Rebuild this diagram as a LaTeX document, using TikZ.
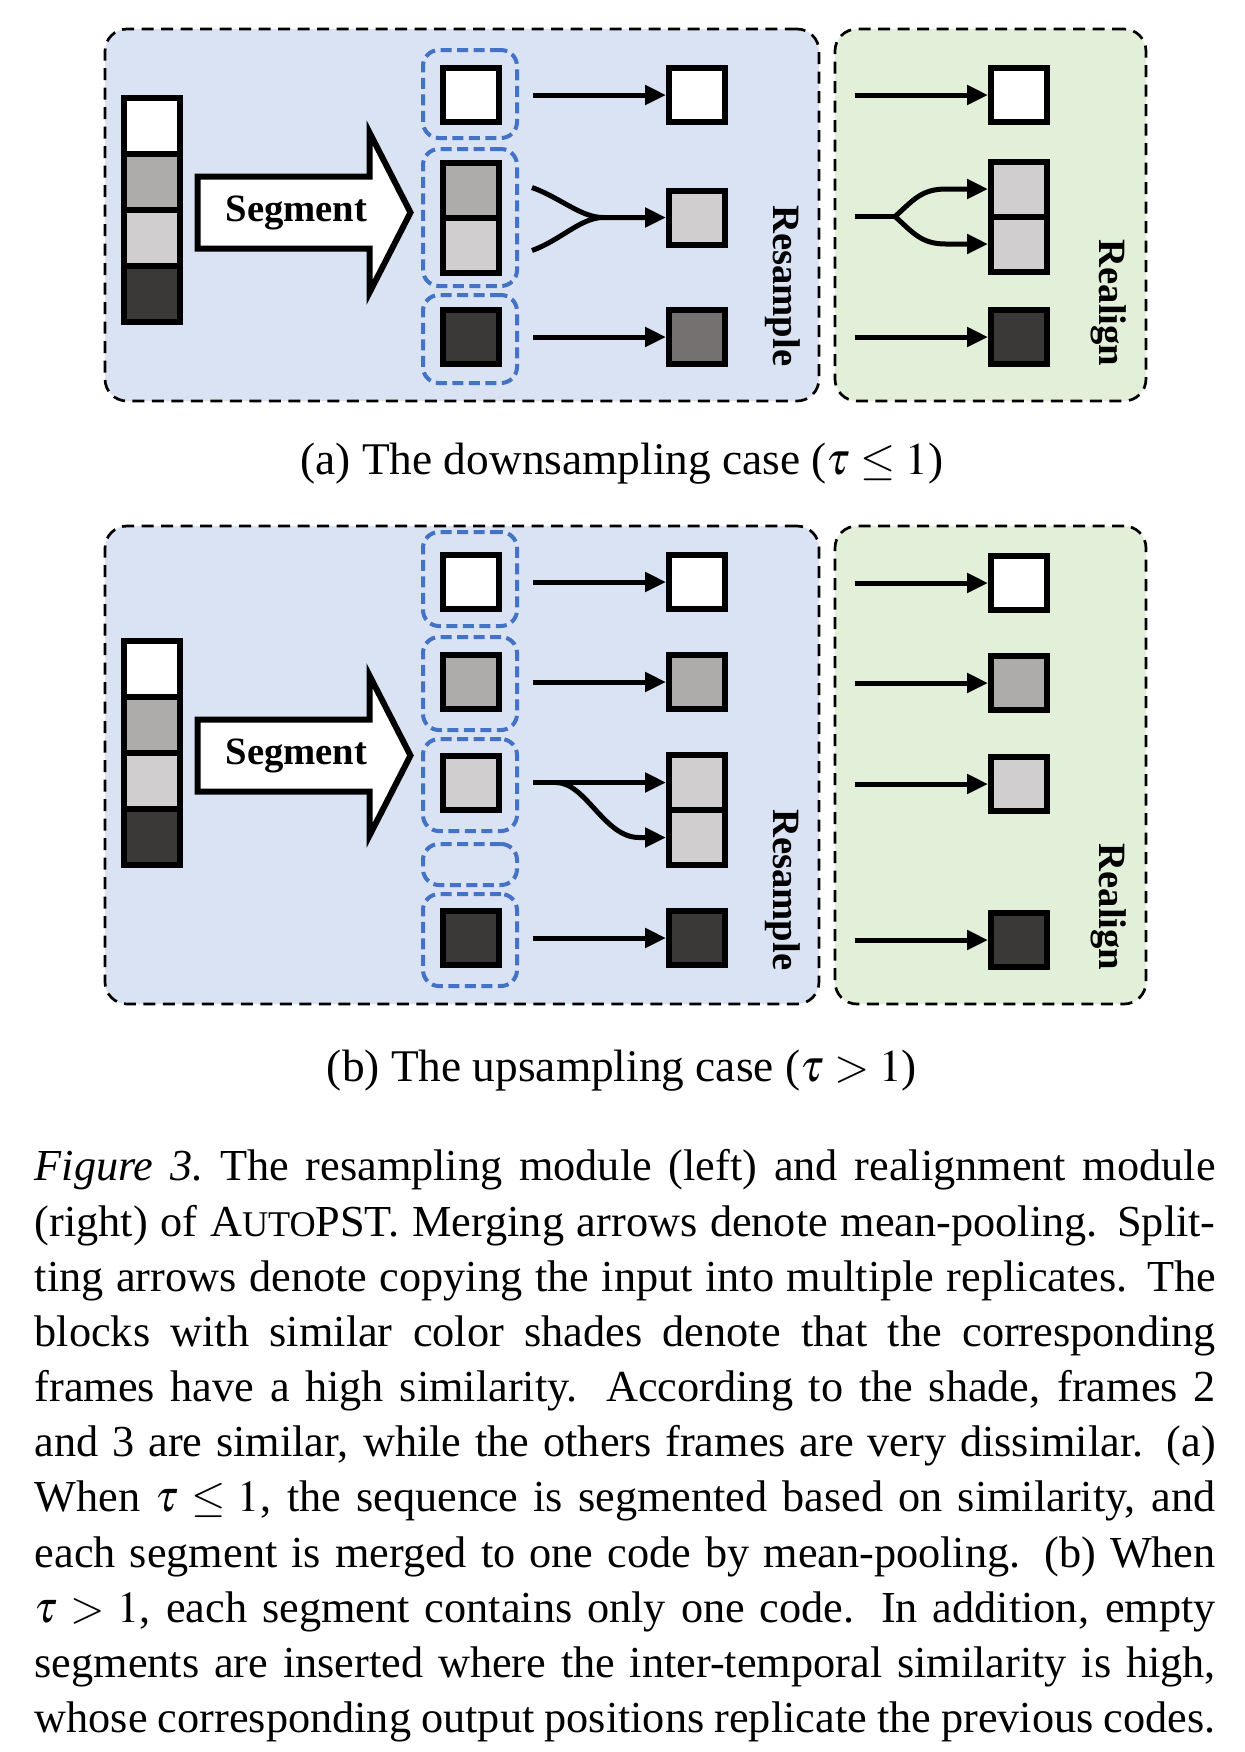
\documentclass[tikz,border=0pt]{standalone}
\usepackage{mathptmx}
\usepackage{fontspec}
\setmainfont{Liberation Serif}
\usetikzlibrary{positioning, calc, arrows.meta}

\definecolor{resamplebg}{HTML}{DAE3F3}
\definecolor{realignbg}{HTML}{E2F0D9}
\definecolor{grpblue}{HTML}{4472C4}
\definecolor{shadeB}{HTML}{AEABAB}
\definecolor{shadeC}{HTML}{D0CECE}
\definecolor{shadeD}{HTML}{3B3838}
\definecolor{shadeM}{HTML}{767171}

\begin{document}
\begin{tikzpicture}
		[x=0.1mm, y=-0.1mm,
		 panel/.style = {draw, dash pattern=on 1.2mm off 0.75mm, line width=0.27mm, rounded corners=2.2mm, inner sep=0pt},
		 grp/.style = {draw=grpblue, dash pattern=on 1.1mm off 0.55mm, line width=0.4mm, rounded corners=1.6mm, minimum width=9.4mm, inner sep=0pt, outer sep=0pt},
		 frm/.style = {draw, line width=0.6mm, minimum width=5.6mm, minimum height=5.4mm, inner sep=0pt, outer sep=0pt},
		 incell/.style = {frm, minimum height=5.6mm},
		 paircell/.style = {frm, minimum height=5.5mm},
		 arr/.style = {line width=0.5mm, -{Triangle[length=2.1mm, width=1.9mm]}, shorten >=0.3mm},
		 branch/.style = {line width=0.5mm},
		 lbl/.style = {font=\bfseries\fontsize{11}{13}\selectfont, inner sep=0pt},
		 captext/.style = {font=\fontsize{12.9}{15.7}\selectfont, inner sep=0pt}]
		\useasboundingbox (0,0) rectangle (1245,1752);

		% (a) downsampling
		\node[panel, fill=resamplebg, minimum width=71.4mm, minimum height=37.2mm] (a-resample) at (462,215) {};
		\node[panel, fill=realignbg, minimum width=31.1mm, minimum height=37.2mm] (a-realign) at (990.5,215) {};

		\node[incell, fill=white] (a-in1) at (151.5,126) {};
		\node[incell, fill=shadeB, below=0pt of a-in1] (a-in2) {};
		\node[incell, fill=shadeC, below=0pt of a-in2] (a-in3) {};
		\node[incell, fill=shadeD, below=0pt of a-in3] (a-in4) {};

		\node[grp, minimum height=8.8mm] (a-grp1) at (470,94) {};
		\node[grp, minimum height=13.7mm] (a-grp2) at (470,217.5) {};
		\node[grp, minimum height=8.8mm] (a-grp3) at (470,339) {};
		\node[frm, fill=white] (a-seg1) at (471,95) {};
		\node[paircell, fill=shadeB] (a-seg2a) at (471,190.5) {};
		\node[paircell, fill=shadeC, below=0pt of a-seg2a] (a-seg2b) {};
		\node[frm, fill=shadeD] (a-seg3) at (471,337) {};

		\node[frm, fill=white] (a-out1) at (697,95) {};
		\node[frm, fill=shadeC] (a-out2) at (697,217.5) {};
		\node[frm, fill=shadeM] (a-out3) at (697,337) {};

		\draw[arr, shorten <=3.4mm] (a-seg1.east) -- (a-out1.west);
		\draw[arr, shorten <=3.4mm] (a-seg3.east) -- (a-out3.west);
		\coordinate (a-merge) at ($(a-out2.west)+(-66,0)$);
		\draw[branch] ($(a-seg2a.east)+(33,-3)$) .. controls +(28,10) and +(-22,0) .. (a-merge);
		\draw[arr] ($(a-seg2b.east)+(33,5)$) .. controls +(28,-10) and +(-22,0) .. (a-merge) -- (a-out2.west);

		\node[frm, fill=white] (a-rl1) at (1019,95) {};
		\node[paircell, fill=shadeC] (a-rl2a) at (1019,189) {};
		\node[paircell, fill=shadeC, below=0pt of a-rl2a] (a-rl2b) {};
		\node[frm, fill=shadeD] (a-rl3) at (1019,337) {};

		\draw[arr, shorten <=2.1mm] (a-rl1.west -| a-realign.west) -- (a-rl1.west);
		\draw[arr, shorten <=2.1mm] (a-rl3.west -| a-realign.west) -- (a-rl3.west);
		\coordinate (a-split) at ($(a-rl2a.south west)+(-96,0)$);
		\draw[branch, shorten <=2.1mm] (a-split -| a-realign.west) -- (a-split);
		\draw[arr] (a-split) .. controls +(18,-16) and +(-25,0) .. ($(a-rl2a.west)+(-45,0)$) -- (a-rl2a.west);
		\draw[arr] (a-split) .. controls +(18,16) and +(-25,0) .. ($(a-rl2b.west)+(-45,0)$) -- (a-rl2b.west);

		\node[lbl, rotate=-90, anchor=east] (a-resample-lbl) at (783,367) {Resample};
		\node[lbl, rotate=-90, anchor=east] (a-realign-lbl) at (1109,367) {Realign};
		\node[captext] (a-caption) at (622,464) {(a) The downsampling case ($\tau \leq 1$)};

		% (b) upsampling
		\node[panel, fill=resamplebg, minimum width=71.4mm, minimum height=47.8mm] (b-resample) at (462,765) {};
		\node[panel, fill=realignbg, minimum width=31.1mm, minimum height=47.8mm] (b-realign) at (990.5,765) {};

		\node[incell, fill=white] (b-in1) at (151.5,669) {};
		\node[incell, fill=shadeB, below=0pt of b-in1] (b-in2) {};
		\node[incell, fill=shadeC, below=0pt of b-in2] (b-in3) {};
		\node[incell, fill=shadeD, below=0pt of b-in3] (b-in4) {};

		\node[grp, minimum height=9.4mm] (b-grp1) at (470,579) {};
		\node[grp, minimum height=9.3mm] (b-grp2) at (470,683.5) {};
		\node[grp, minimum height=9.2mm] (b-grp3) at (470,785) {};
		\node[grp, minimum height=4.1mm] (b-grp4) at (470,864.5) {};
		\node[grp, minimum height=9.2mm] (b-grp5) at (470,940) {};
		\node[frm, fill=white] (b-seg1) at (471,582) {};
		\node[frm, fill=shadeB] (b-seg2) at (471,682) {};
		\node[frm, fill=shadeC] (b-seg3) at (471,782.5) {};
		\node[frm, fill=shadeD] (b-seg5) at (471,938) {};

		\node[frm, fill=white] (b-out1) at (697,582) {};
		\node[frm, fill=shadeB] (b-out2) at (697,682) {};
		\node[paircell, fill=shadeC] (b-out3a) at (697,782.5) {};
		\node[paircell, fill=shadeC, below=0pt of b-out3a] (b-out3b) {};
		\node[frm, fill=shadeD] (b-out5) at (697,938) {};

		\draw[arr, shorten <=3.4mm] (b-seg1.east) -- (b-out1.west);
		\draw[arr, shorten <=3.4mm] (b-seg2.east) -- (b-out2.west);
		\draw[arr, shorten <=3.4mm] (b-seg3.east) -- (b-out3a.west);
		\draw[arr] ($(b-seg3.east)+(57,0)$) .. controls +(30,0) and +(-35,0) .. ($(b-out3b.west)+(-30,0)$) -- (b-out3b.west);
		\draw[arr, shorten <=3.4mm] (b-seg5.east) -- (b-out5.west);

		\node[frm, fill=white] (b-rl1) at (1019,583) {};
		\node[frm, fill=shadeB] (b-rl2) at (1019,683) {};
		\node[frm, fill=shadeC] (b-rl3) at (1019,784) {};
		\node[frm, fill=shadeD] (b-rl4) at (1019,940) {};
		\foreach \i in {1,...,4}
			\draw[arr, shorten <=2.1mm] (b-rl\i.west -| b-realign.west) -- (b-rl\i.west);

		\node[lbl, rotate=-90, anchor=east] (b-resample-lbl) at (783,971) {Resample};
		\node[lbl, rotate=-90, anchor=east] (b-realign-lbl) at (1109,971) {Realign};
		\node[captext] (b-caption) at (622,1071) {(b) The upsampling case ($\tau > 1$)};

		% segment arrows
		\foreach \p in {a,b} {
			\draw[line width=0.6mm, fill=white] ($(\p-in2.south east)+(18,-33.5)$) -- ++(172,0) -- ++(0,-44) -- ++(41,80) -- ++(-41,80) -- ++(0,-44) -- ++(-172,0) -- cycle;
			\node[lbl] (\p-segtxt) at ($(\p-in2.south east)+(117,2.5)$) {Segment};
		}

		% figure caption
		\node[captext, anchor=north west, text width=118.1mm, align=justify, font=\fontsize{12.6}{15.7}\selectfont] (caption) at (34,1149) {\parfillskip=0pt \hyphenpenalty=10000 \exhyphenpenalty=10000
			\textit{Figure 3.}\ The resampling module (left) and realignment module\linebreak
			(right) of A{\fontsize{10.3}{15.7}\selectfont UTO}PST. Merging arrows denote mean-pooling. Split-\linebreak
			ting arrows denote copying the input into multiple replicates. The\linebreak
			blocks with similar color shades denote that the corresponding\linebreak
			frames have a high similarity.  According to the shade, frames 2\linebreak
			and 3 are similar, while the others frames are very dissimilar. (a)\linebreak
			When $\tau \leq 1$, the sequence is segmented based on similarity, and\linebreak
			each segment is merged to one code by mean-pooling. (b) When\linebreak
			$\tau > 1$, each segment contains only one code. In addition, empty\linebreak
			segments are inserted where the inter-temporal similarity is high,\linebreak
			whose corresponding output positions replicate the previous codes.};
	\end{tikzpicture}
\end{document}
